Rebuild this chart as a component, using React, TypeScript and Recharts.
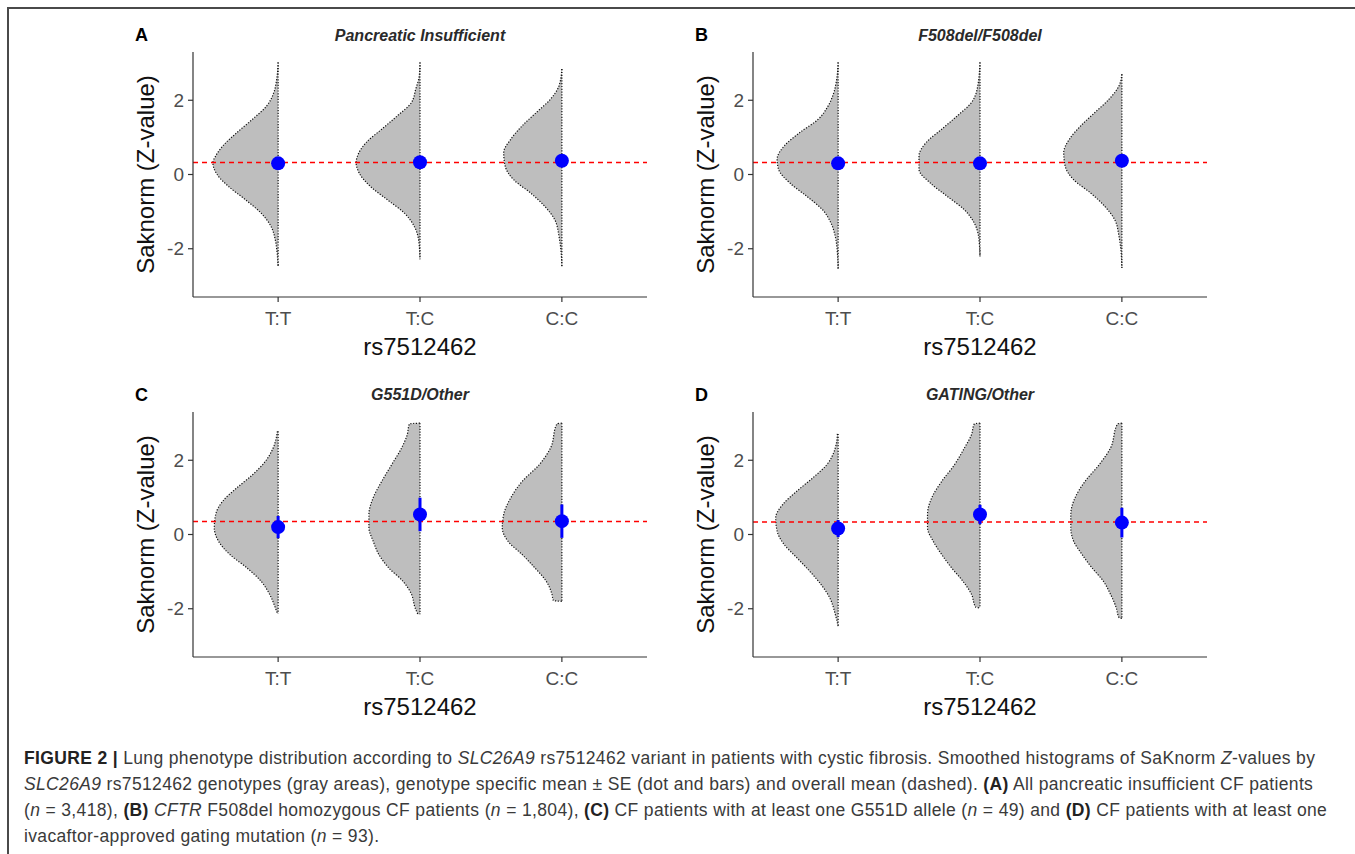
import React from "react";
import { ComposedChart, Area, Scatter, ErrorBar, XAxis, YAxis, ReferenceLine } from "recharts";

const genotypes = ["T:T", "T:C", "C:C"];
const yTicks = [-2, 0, 2];
const panelLetters = ["A", "B", "C", "D"];
const panelTitles = ["Pancreatic Insufficient", "F508del/F508del", "G551D/Other", "GATING/Other"];

// half violin outlines: [Z-value, half width in genotype units]
const aTT = [[3.02, 0], [2.57, 0.01], [2.21, 0.03], [1.85, 0.08], [1.49, 0.18], [1.13, 0.29], [0.77, 0.39], [0.5, 0.44], [0.32, 0.46], [0, 0.43], [-0.32, 0.35], [-0.68, 0.23], [-1.04, 0.12], [-1.4, 0.05], [-1.76, 0.02], [-2.12, 0.007], [-2.48, 0]];
const aTC = [[3.02, 0], [2.66, 0.005], [2.3, 0.03], [1.94, 0.06], [1.58, 0.16], [1.22, 0.27], [0.86, 0.38], [0.59, 0.43], [0.32, 0.45], [0.05, 0.43], [-0.32, 0.35], [-0.68, 0.23], [-1.04, 0.11], [-1.4, 0.04], [-1.76, 0.01], [-2.28, 0]];
const aCC = [[2.84, 0], [2.39, 0.02], [2.03, 0.08], [1.67, 0.18], [1.31, 0.28], [0.95, 0.36], [0.59, 0.41], [0.23, 0.4], [-0.14, 0.34], [-0.5, 0.22], [-0.86, 0.12], [-1.22, 0.05], [-1.67, 0.02], [-2.12, 0.005], [-2.48, 0]];

const bTT = [[3.02, 0], [2.57, 0.01], [2.21, 0.03], [1.85, 0.07], [1.49, 0.14], [1.13, 0.27], [0.77, 0.38], [0.41, 0.43], [0.14, 0.42], [-0.23, 0.34], [-0.59, 0.22], [-0.95, 0.11], [-1.31, 0.05], [-1.67, 0.02], [-2.12, 0.005], [-2.55, 0]];
const bTC = [[3.02, 0], [2.3, 0.02], [1.94, 0.06], [1.58, 0.16], [1.22, 0.27], [0.86, 0.38], [0.5, 0.43], [0.14, 0.43], [-0.23, 0.35], [-0.59, 0.23], [-0.95, 0.11], [-1.31, 0.04], [-1.67, 0.01], [-2.21, 0]];
const bCC = [[2.7, 0], [2.39, 0.02], [2.03, 0.09], [1.67, 0.19], [1.31, 0.29], [0.95, 0.37], [0.59, 0.41], [0.23, 0.4], [-0.14, 0.34], [-0.5, 0.22], [-0.86, 0.12], [-1.22, 0.05], [-1.67, 0.02], [-2.12, 0.005], [-2.52, 0]];

const cTT = [[2.78, 0.005], [2.33, 0.035], [1.97, 0.09], [1.61, 0.18], [1.26, 0.29], [0.9, 0.39], [0.54, 0.44], [0.18, 0.45], [-0.18, 0.42], [-0.54, 0.34], [-0.9, 0.22], [-1.26, 0.12], [-1.61, 0.06], [-1.97, 0.02], [-2.13, 0.005]];
const cTC = [[3.0, 0], [2.98, 0.075], [2.69, 0.09], [2.33, 0.13], [1.88, 0.2], [1.43, 0.27], [0.99, 0.33], [0.54, 0.36], [0.18, 0.36], [-0.18, 0.33], [-0.54, 0.29], [-0.9, 0.22], [-1.26, 0.12], [-1.61, 0.06], [-1.97, 0.035], [-2.15, 0.015]];
const cCC = [[3.0, 0], [2.98, 0.035], [2.33, 0.08], [1.88, 0.16], [1.43, 0.28], [0.99, 0.36], [0.54, 0.41], [0.18, 0.42], [-0.18, 0.38], [-0.54, 0.28], [-0.9, 0.19], [-1.26, 0.11], [-1.61, 0.07], [-1.78, 0.06], [-1.8, 0]];

const dTT = [[2.71, 0.005], [2.33, 0.02], [1.88, 0.08], [1.52, 0.18], [1.17, 0.29], [0.81, 0.39], [0.45, 0.44], [0.09, 0.43], [-0.27, 0.38], [-0.63, 0.29], [-0.99, 0.2], [-1.35, 0.12], [-1.7, 0.06], [-2.15, 0.02], [-2.47, 0]];
const dTC = [[3.0, 0], [2.98, 0.04], [2.69, 0.06], [2.33, 0.11], [1.88, 0.18], [1.43, 0.27], [0.99, 0.34], [0.54, 0.37], [0.18, 0.37], [-0.18, 0.33], [-0.54, 0.27], [-0.9, 0.2], [-1.26, 0.12], [-1.61, 0.06], [-1.96, 0.03], [-1.98, 0]];
const dCC = [[3.0, 0], [2.98, 0.03], [2.33, 0.08], [1.88, 0.16], [1.43, 0.26], [0.99, 0.33], [0.54, 0.36], [0.18, 0.36], [-0.18, 0.34], [-0.54, 0.28], [-0.9, 0.21], [-1.26, 0.13], [-1.61, 0.08], [-1.97, 0.04], [-2.24, 0.02], [-2.26, 0]];

// genotype means and SE
const meansA = [0.3, 0.33, 0.37];
const seA = [0.03, 0.03, 0.035];
const meansB = [0.3, 0.3, 0.37];
const seB = [0.03, 0.04, 0.05];
const meansC = [0.2, 0.54, 0.36];
const seC = [0.3, 0.45, 0.45];
const meansD = [0.16, 0.54, 0.32];
const seD = [0.23, 0.26, 0.4];

// overall mean (dashed line)
const overallMean = [0.32, 0.32, 0.35, 0.34];

const panels = [
  { violins: [aTT, aTC, aCC], means: meansA, se: seA, left: 110, top: 40 },
  { violins: [bTT, bTC, bCC], means: meansB, se: seB, left: 670, top: 40 },
  { violins: [cTT, cTC, cCC], means: meansC, se: seC, left: 110, top: 400 },
  { violins: [dTT, dTC, dCC], means: meansD, se: seD, left: 670, top: 400 },
];

const font = "'Liberation Sans', Arial, Helvetica, sans-serif";

function Panel({ idx }: { idx: number }) {
  const p = panels[idx];
  const meanData = p.means.map((m, i) => ({ x: i + 1, z: m, se: p.se[i] }));
  return (
    <div style={{ position: "absolute", left: p.left, top: p.top }}>
      <ComposedChart
        width={560}
        height={330}
        layout="vertical"
        margin={{ top: 12, right: 23, left: 23, bottom: 0 }}
        style={{ fontFamily: font }}
      >
        <XAxis
          type="number"
          dataKey="x"
          domain={[0.4, 3.6]}
          ticks={[1, 2, 3]}
          tickFormatter={(v: number) => genotypes[v - 1]}
          allowDataOverflow
          height={73}
          tickSize={5}
          tickMargin={10}
          tick={{ fill: "#4d4d4d", fontSize: 19 }}
          axisLine={{ stroke: "#333", strokeWidth: 1.2 }}
          tickLine={{ stroke: "#333", strokeWidth: 1.2 }}
          label={{ value: "rs7512462", position: "insideBottom", offset: 15, fill: "#111", fontSize: 24 }}
        />
        <YAxis
          type="number"
          dataKey="z"
          domain={[-3.3, 3.3]}
          ticks={yTicks}
          reversed
          allowDataOverflow
          width={60}
          tickSize={5}
          tickMargin={4}
          tick={{ fill: "#4d4d4d", fontSize: 19 }}
          axisLine={{ stroke: "#333", strokeWidth: 1.2 }}
          tickLine={{ stroke: "#333", strokeWidth: 1.2 }}
          label={{
            value: "Saknorm (Z-value)",
            angle: -90,
            position: "insideLeft",
            offset: 12,
            fill: "#111",
            fontSize: 24,
            style: { textAnchor: "middle" },
          }}
        />
        <ReferenceLine y={overallMean[idx]} stroke="#ff0000" strokeOpacity={1} strokeDasharray="5 4" strokeWidth={1.5} />
        {p.violins.map((v, i) => (
          <Area
            key={i}
            data={v.map(([z, w]) => ({ z, band: [i + 1 - w, i + 1] }))}
            dataKey="band"
            type="monotone"
            fill="#bebebe"
            fillOpacity={1}
            stroke="#111"
            strokeWidth={1.2}
            strokeDasharray="1.2 1.6"
            dot={false}
            activeDot={false}
            isAnimationActive={false}
          />
        ))}
        <Scatter
          data={meanData}
          isAnimationActive={false}
          shape={(s: any) => <circle cx={s.cx} cy={s.cy} r={7} fill="#0000ff" />}
        >
          <ErrorBar dataKey="se" direction="y" width={0} stroke="#0000ff" strokeWidth={3} isAnimationActive={false} />
        </Scatter>
      </ComposedChart>
    </div>
  );
}

const titleCenters = [
  { x: 420, y: 36 },
  { x: 980, y: 36 },
  { x: 420, y: 395 },
  { x: 980, y: 395 },
];
const letterPos = [
  { x: 135, y: 35 },
  { x: 695, y: 35 },
  { x: 135, y: 395 },
  { x: 695, y: 395 },
];

export default function App() {
  const bold = { color: "#222" };
  return (
    <div style={{ position: "absolute", left: 0, top: 0, width: 1355, height: 854, background: "#fff", fontFamily: font, overflow: "hidden" }}>
      <div style={{ position: "absolute", left: 7, top: 7, width: 1348, height: 847, borderTop: "2px solid #4a4a4a", borderLeft: "2px solid #4a4a4a" }} />
      {panels.map((_, i) => (
        <Panel key={i} idx={i} />
      ))}
      {panelTitles.map((t, i) => (
        <div
          key={t}
          style={{
            position: "absolute",
            left: titleCenters[i].x,
            top: titleCenters[i].y,
            transform: "translate(-50%, -50%)",
            whiteSpace: "nowrap",
            fontWeight: "bold",
            fontStyle: "italic",
            fontSize: 16,
            color: "#2a2a2a",
          }}
        >
          {t}
        </div>
      ))}
      {panelLetters.map((l, i) => (
        <div
          key={l}
          style={{
            position: "absolute",
            left: letterPos[i].x,
            top: letterPos[i].y,
            transform: "translateY(-50%)",
            fontWeight: "bold",
            fontSize: 18,
            color: "#000",
          }}
        >
          {l}
        </div>
      ))}
      <div style={{ position: "absolute", left: 24, top: 745, fontSize: 17.5, letterSpacing: 0.35, lineHeight: "26px", color: "#3a3a3a", whiteSpace: "nowrap" }}>
        <div>
          <b style={bold}>FIGURE 2 |</b> Lung phenotype distribution according to <i>SLC26A9</i> rs7512462 variant in patients with cystic fibrosis. Smoothed histograms of SaKnorm <i>Z</i>-values by
        </div>
        <div>
          <i>SLC26A9</i> rs7512462 genotypes (gray areas), genotype specific mean ± SE (dot and bars) and overall mean (dashed). <b style={bold}>(A)</b> All pancreatic insufficient CF patients
        </div>
        <div>
          (<i>n</i> = 3,418), <b style={bold}>(B)</b> <i>CFTR</i> F508del homozygous CF patients (<i>n</i> = 1,804), <b style={bold}>(C)</b> CF patients with at least one G551D allele (<i>n</i> = 49) and <b style={bold}>(D)</b> CF patients with at least one
        </div>
        <div>
          ivacaftor-approved gating mutation (<i>n</i> = 93).
        </div>
      </div>
    </div>
  );
}
